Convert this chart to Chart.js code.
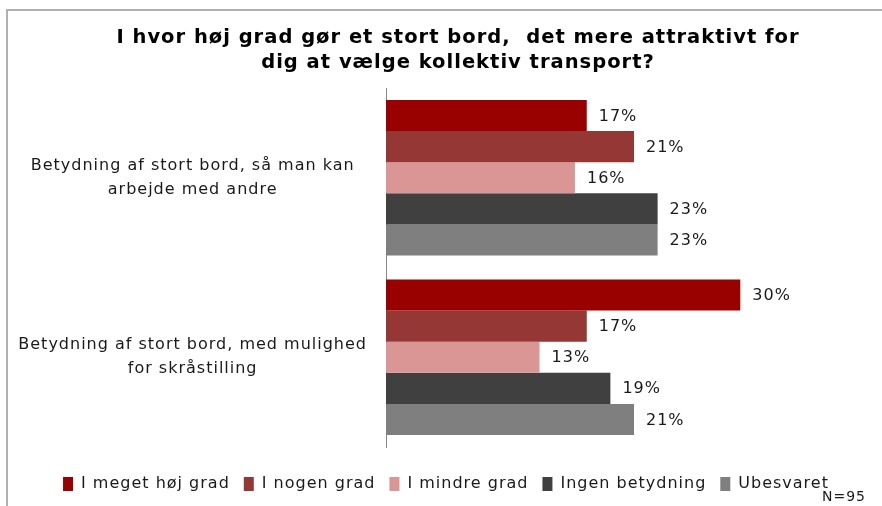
<!DOCTYPE html>
<html>
<head>
<meta charset="utf-8">
<script src="https://cdn.jsdelivr.net/npm/chart.js@4"></script>
<style>
  html, body { margin: 0; padding: 0; background: #fff; }
  #wrap { width: 882px; height: 506px; }
</style>
</head>
<body>
<div id="wrap"><canvas id="chart" width="882" height="506"></canvas></div>
<script>
const categories = [
  ["Betydning af stort bord, så man kan", "arbejde med andre"],
  ["Betydning af stort bord, med mulighed", "for skråstilling"]
];
const seriesNames = ["I meget høj grad", "I nogen grad", "I mindre grad", "Ingen betydning", "Ubesvaret"];
const seriesColors = ["#990000", "#953735", "#d99694", "#404040", "#7f7f7f"];
const meget = [17, 30];
const nogen = [21, 17];
const mindre = [16, 13];
const ingen = [23, 19];
const ubesvaret = [23, 21];
const titleLines = ["I hvor høj grad gør et stort bord,  det mere attraktivt for", "dig at vælge kollektiv transport?"];
const footNote = "N=95";

const FONT = "'DejaVu Sans', Verdana, sans-serif";
Chart.defaults.color = "#1a1a1a";
Chart.defaults.font.family = FONT;

// the original text is a bit loosely spaced, widen it a little
const spacing = {
  id: "spacing",
  beforeUpdate(chart) { chart.ctx.letterSpacing = "1px"; },
  beforeLayout(chart) { chart.ctx.letterSpacing = "1px"; },
  beforeDraw(chart) { chart.ctx.letterSpacing = "1px"; }
};

// value labels right of each bar
const valueLabels = {
  id: "valueLabels",
  afterDatasetsDraw(chart) {
    const ctx = chart.ctx;
    ctx.save();
    ctx.font = "16px " + FONT;
    ctx.fillStyle = "#1a1a1a";
    ctx.textAlign = "left";
    ctx.textBaseline = "middle";
    chart.data.datasets.forEach((ds, i) => {
      chart.getDatasetMeta(i).data.forEach((bar, j) => {
        ctx.fillText(ds.data[j] + "%", bar.x + 12, bar.y + 1);
      });
    });
    ctx.restore();
  }
};

// title is off-centre in the original, so it is drawn here instead of the title plugin
const titleText = {
  id: "titleText",
  afterDraw(chart) {
    const ctx = chart.ctx;
    ctx.save();
    ctx.font = "bold 19.5px " + FONT;
    ctx.fillStyle = "#000";
    ctx.textAlign = "center";
    ctx.textBaseline = "middle";
    titleLines.forEach((line, i) => ctx.fillText(line, 458, 38 + i * 25));
    ctx.restore();
  }
};

// grey frame on top/left and the N note
const frame = {
  id: "frame",
  afterDraw(chart) {
    const ctx = chart.ctx;
    ctx.save();
    ctx.fillStyle = "#b0b0b0";
    ctx.fillRect(6, 9, 876, 2);
    ctx.fillRect(6, 9, 2, 497);
    ctx.font = "14px " + FONT;
    ctx.fillStyle = "#1a1a1a";
    ctx.textAlign = "right";
    ctx.textBaseline = "middle";
    ctx.fillText(footNote, 866, 497);
    ctx.restore();
  }
};

const seriesData = [meget, nogen, mindre, ingen, ubesvaret];

new Chart(document.getElementById("chart"), {
  type: "bar",
  data: {
    labels: categories,
    datasets: seriesNames.map((name, i) => ({
      label: name,
      data: seriesData[i],
      backgroundColor: seriesColors[i],
      borderWidth: 0,
      categoryPercentage: 0.866,
      barPercentage: 1.0,
    })),
  },
  options: {
    indexAxis: "y",
    responsive: false,
    animation: false,
    layout: { padding: { left: 10, right: 0, top: 88, bottom: 4 } },
    scales: {
      x: {
        min: 0, max: 42,
        grid: { display: false, drawTicks: false },
        border: { display: false },
        ticks: { display: false },
        afterFit(scale) { scale.height = 15; },
      },
      y: {
        grid: { display: false, drawTicks: false },
        border: { display: true, color: "#868686", width: 1 },
        ticks: { crossAlign: "center", padding: 19, font: { size: 16, lineHeight: 1.5 }, color: "#1a1a1a" },
        afterFit(scale) { scale.width = 376; },
      },
    },
    plugins: {
      title: { display: false },
      legend: {
        position: "bottom",
        labels: { boxWidth: 10, boxHeight: 14, padding: 14, font: { size: 16 }, color: "#1a1a1a" },
      },
      tooltip: { enabled: false },
    },
  },
  plugins: [spacing, valueLabels, titleText, frame],
});
</script>
</body>
</html>
